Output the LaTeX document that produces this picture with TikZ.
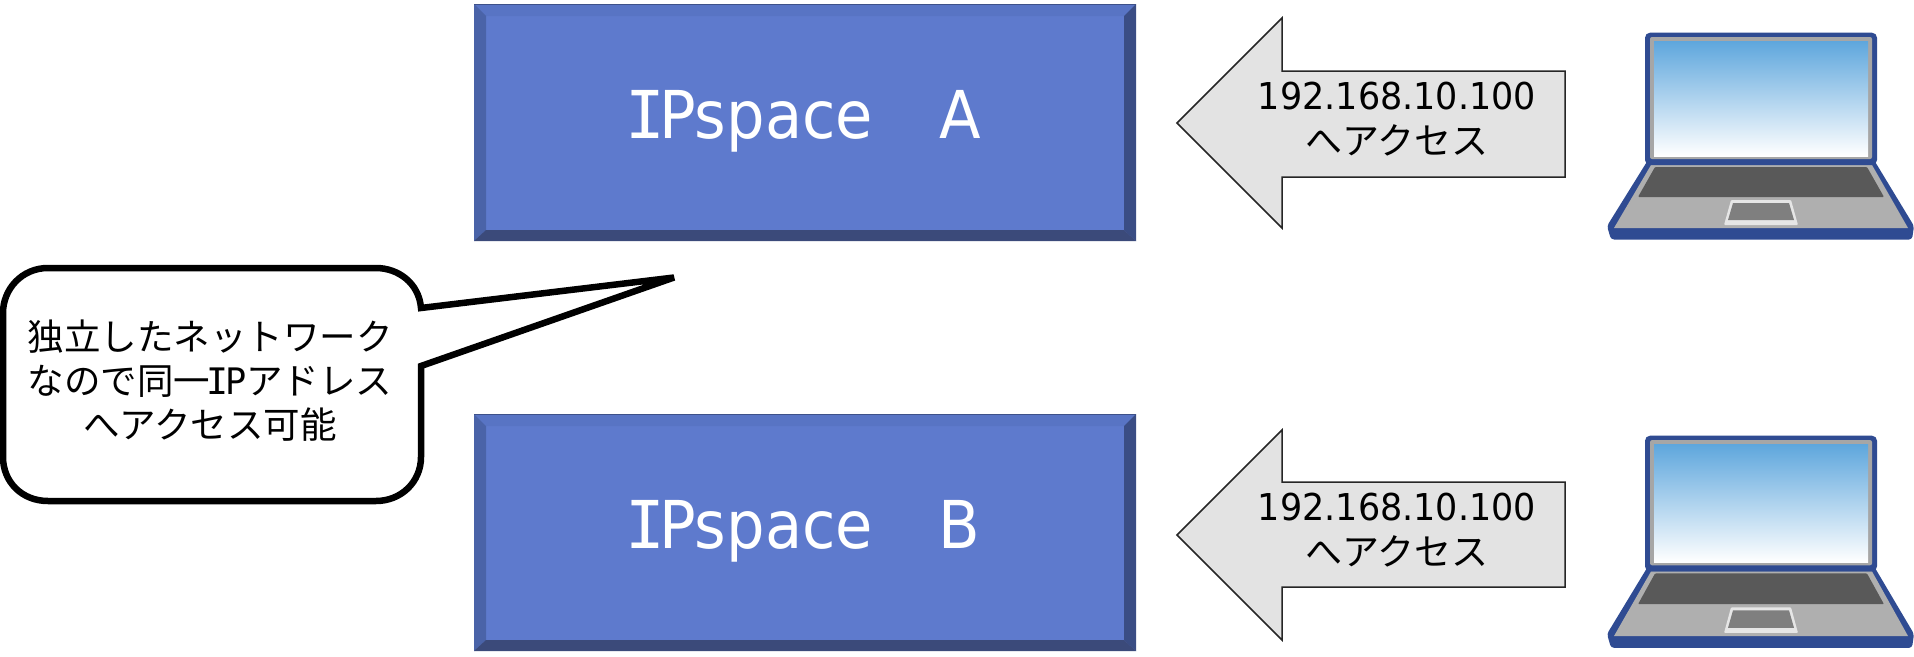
\documentclass[tikz,border=0pt]{standalone}
\usepackage{fontspec}
\setmainfont{DejaVu Sans}
\newfontfamily\cjk{Noto Sans CJK JP}
\newfontfamily\narrowfont[FakeStretch=0.92]{DejaVu Sans}
\newfontfamily\midfont[FakeStretch=0.945]{DejaVu Sans}
\newfontfamily\serifimono{DejaVu Sans Mono}
\newcommand{\serifI}{{\serifimono\kern-.09em I\kern-.09em}}
\definecolor{face}{HTML}{5E7ACD}
\definecolor{bevL}{HTML}{4A63A8}
\definecolor{bevT}{HTML}{5874C4}
\definecolor{bevR}{HTML}{3A4D84}
\definecolor{bevB}{HTML}{3B4A7A}
\definecolor{lapblue}{HTML}{2F4B92}
\definecolor{lapgray}{HTML}{AFAFAF}
\definecolor{bezel}{HTML}{A6A6A6}
\definecolor{keyb}{HTML}{595959}
\definecolor{pad}{HTML}{7F7F7F}
\definecolor{padrim}{HTML}{E6E6E6}
\definecolor{arrowfill}{HTML}{E3E3E3}
\definecolor{HTMLtop}{HTML}{5FA7DD}
\tikzset{
  boxlabel/.style={text=white,font=\narrowfont\fontsize{66}{70}\selectfont,inner sep=0pt,anchor=base},
  arrowlabel/.style={text=black,align=center,inner sep=0pt,font=\midfont\fontsize{37}{45}\selectfont},
  calloutlabel/.style={text=black,align=center,inner sep=0pt,font=\cjk\fontsize{36.5}{44}\selectfont},
  blockarrow/.style={draw=black!85,line width=1.5pt,fill=arrowfill,line join=miter},
  calloutshape/.style={draw=black,line width=6.5pt,fill=white,line join=miter,miter limit=3},
}
\newcommand{\bevelbox}[1]{%
\begin{scope}[yshift=-#1pt]
  \fill[face] (474,4) rectangle (1136,241);
  \fill[bevT] (474,4) -- (1136,4) -- (1124,16) -- (486,16) -- cycle;
  \fill[bevL] (474,4) -- (486,16) -- (486,230) -- (474,241) -- cycle;
  \fill[bevR] (1136,4) -- (1124,16) -- (1124,230) -- (1136,241) -- cycle;
  \fill[bevB] (474,241) -- (486,230) -- (1124,230) -- (1136,241) -- cycle;
  \draw[bevT!70!black,line width=1pt] (474,4) -- (1136,4);
\end{scope}}
\newcommand{\laptop}[2]{%
\begin{scope}[shift={(0,#1)},yscale=#2]
  \fill[lapblue,rounded corners=3pt] (1607,226) -- (1648,160) -- (1874,160) -- (1914,226) -- (1912,239.5) -- (1611,239.5) -- cycle;
  \fill[lapgray] (1651,165) -- (1872,165) -- (1908,228) -- (1614,228) -- cycle;
  \fill[keyb,rounded corners=1pt] (1655,167) -- (1867,167) -- (1884,197) -- (1638,197) -- cycle;
  \fill[padrim,rounded corners=1pt] (1731,200) -- (1791,200) -- (1798,225) -- (1724,225) -- cycle;
  \fill[pad] (1733,203) -- (1789,203) -- (1794,220) -- (1728,220) -- cycle;
  \fill[lapblue,rounded corners=5pt] (1645,32.7) rectangle (1877,165);
  \fill[bezel,rounded corners=2pt] (1650,37) rectangle (1872,159);
  \shade[top color=HTMLtop,bottom color=white] (1654,41.7) rectangle (1868,156);
\end{scope}}
\begin{document}
\begin{tikzpicture}[x=1pt,y=-1pt]
  \useasboundingbox (0,0) rectangle (1914,656);
  \fill[white] (0,0) rectangle (1914,656);
  \bevelbox{0}
  \bevelbox{410}
  \node[boxlabel] (labelA) at (806,138) {\serifI Pspace{\cjk　}A};
  \node[boxlabel] (labelB) at (806,548) {\serifI Pspace{\cjk　}B};
  \draw[blockarrow] (1177,123) -- (1282,18) -- (1282,71) -- (1565,71) -- (1565,177) -- (1282,177) -- (1282,228) -- cycle;
  \draw[blockarrow] (1177,535) -- (1282,430) -- (1282,482) -- (1565,482) -- (1565,587) -- (1282,587) -- (1282,640) -- cycle;
  \node[arrowlabel] (textA) at (1397,119) {192.168.10.100\\{\cjk へアクセス}};
  \node[arrowlabel] (textB) at (1397,530) {192.168.10.100\\{\cjk へアクセス}};
  \draw[calloutshape] (421,308) .. controls (419,283) and (398,268) .. (376,268)
    -- (48,268) .. controls (22,268) and (3,289) .. (3,313)
    -- (3,457) .. controls (3,482) and (22,501) .. (48,501)
    -- (376,501) .. controls (401,501) and (421,482) .. (421,457)
    -- (421,366) -- (674,277.5) -- cycle;
  \node[calloutlabel] (note) at (210,381) {独立したネットワーク\\なので同一{\midfont\serifI P}アドレス\\へアクセス可能};
  \laptop{0}{1}
  \laptop{402.15}{1.0258}
\end{tikzpicture}
\end{document}
